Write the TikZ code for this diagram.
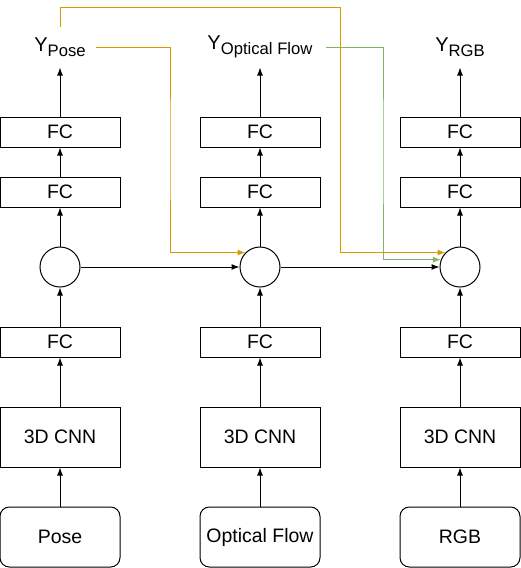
\documentclass[tikz,border=0pt]{standalone}
\usepackage{fontspec}
\setmainfont{Liberation Sans}
\usetikzlibrary{arrows.meta}

\definecolor{fuseorange}{HTML}{D79B00}
\definecolor{fusegreen}{HTML}{82B366}

\newcommand{\ylab}[1]{\fontsize{15}{17}\selectfont Y\raisebox{-3.8pt}{\fontsize{12.5}{14}\selectfont #1}}

\tikzset{
    block/.style={draw, line width=0.75pt, minimum width=90pt, inner sep=0pt, font=\fontsize{14.6}{17}\selectfont},
    fcbox/.style={block, minimum height=22.5pt},
    netbox/.style={block, minimum height=45pt},
    inbox/.style={netbox, rounded corners=7pt},
    fuse/.style={draw, circle, line width=0.75pt, minimum size=30pt, inner sep=0pt},
    ylabel/.style={minimum height=30pt, inner sep=0pt},
}

\begin{document}
\begin{tikzpicture}[x=0.75pt, y=-0.75pt, >={Latex[length=6pt,width=4.5pt]}, line width=0.75pt]
    \useasboundingbox (0,0) rectangle (521,568);

    % pose
    \node[inbox] (inPose) at (60,537) {Pose};
    \node[netbox] (cnnPose) at (60,437) {3D CNN};
    \node[fcbox] (fcPose) at (60,342) {FC};
    \node[fuse] (sumPose) at (60,267) {};
    \node[fcbox] (fcPoseA) at (60,192) {FC};
    \node[fcbox] (fcPoseB) at (60,132) {FC};
    \node[ylabel, minimum width=52.5pt] (yPose) at (60,47) {\ylab{Pose}};

    % optical flow
    \node[inbox] (inFlow) at (260,537) {Optical Flow};
    \node[netbox] (cnnFlow) at (260,437) {3D CNN};
    \node[fcbox] (fcFlow) at (260,342) {FC};
    \node[fuse] (sumFlow) at (260,267) {};
    \node[fcbox] (fcFlowA) at (260,192) {FC};
    \node[fcbox] (fcFlowB) at (260,132) {FC};
    \node[ylabel, minimum width=97.5pt] (yFlow) at (260,47) {\ylab{Optical Flow}};

    % rgb
    \node[inbox] (inRGB) at (460,537) {RGB};
    \node[netbox] (cnnRGB) at (460,437) {3D CNN};
    \node[fcbox] (fcRGB) at (460,342) {FC};
    \node[fuse] (sumRGB) at (460,267) {};
    \node[fcbox] (fcRGBA) at (460,192) {FC};
    \node[fcbox] (fcRGBB) at (460,132) {FC};
    \node[ylabel, minimum width=52.5pt] (yRGB) at (460,47) {\ylab{RGB}};

    \draw[->] (inPose) -- (cnnPose);
    \draw[->] (cnnPose) -- (fcPose);
    \draw[->] (fcPose) -- (sumPose);
    \draw[->] (sumPose) -- (fcPoseA);
    \draw[->] (fcPoseA) -- (fcPoseB);
    \draw[->] (fcPoseB) -- (yPose);

    \draw[->] (inFlow) -- (cnnFlow);
    \draw[->] (cnnFlow) -- (fcFlow);
    \draw[->] (fcFlow) -- (sumFlow);
    \draw[->] (sumFlow) -- (fcFlowA);
    \draw[->] (fcFlowA) -- (fcFlowB);
    \draw[->] (fcFlowB) -- (yFlow);

    \draw[->] (inRGB) -- (cnnRGB);
    \draw[->] (cnnRGB) -- (fcRGB);
    \draw[->] (fcRGB) -- (sumRGB);
    \draw[->] (sumRGB) -- (fcRGBA);
    \draw[->] (fcRGBA) -- (fcRGBB);
    \draw[->] (fcRGBB) -- (yRGB);

    \draw[->] (sumPose) -- (sumFlow);
    \draw[->] (sumFlow) -- (sumRGB);

    % skip connections
    \coordinate (bendFlow) at (383,150);
    \coordinate (bendPose) at (170,150);
    \coordinate (bendTop) at (340,7);

    \draw[->, fusegreen] (yFlow.east) -| (bendFlow) |- (sumRGB.159.5);
    \draw[->, fuseorange] (yPose.east) -| (bendPose) |- (sumFlow.135.6);
    \draw[->, fuseorange] (yPose.north) |- (bendTop) |- (sumRGB.135.6);
\end{tikzpicture}
\end{document}
